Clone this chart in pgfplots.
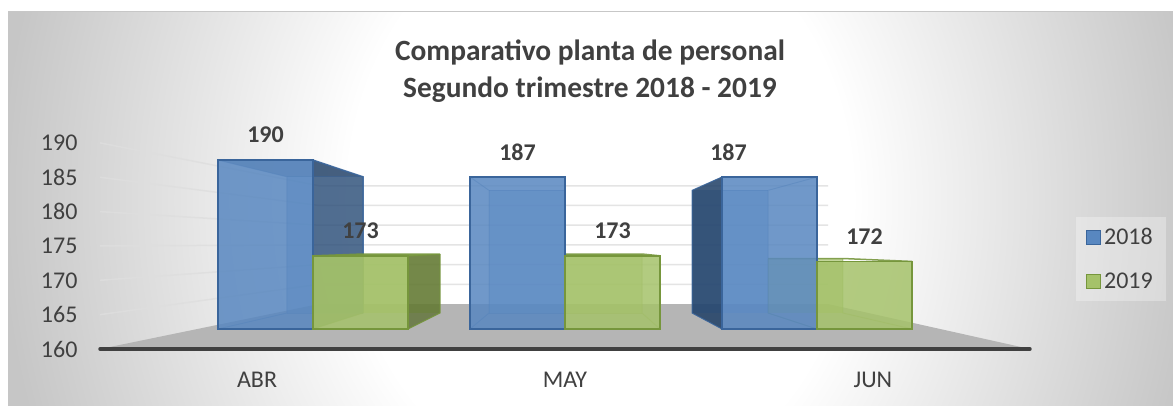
\documentclass[border=0pt]{standalone}
\usepackage{pgfplots}
\pgfplotsset{compat=1.18}
\usepackage{fontspec}
\setmainfont{Carlito}
\definecolor{txt}{HTML}{404040}
\definecolor{bggray}{HTML}{C6C6C6}
\definecolor{floorc}{HTML}{B5B5B5}
\definecolor{gridc}{HTML}{DEDEDE}
\definecolor{blueF}{HTML}{4F81BD}
\definecolor{blueE}{HTML}{3A659B}
\definecolor{blueD}{HTML}{1F3F66}
\definecolor{blueL}{HTML}{6C9DDB}
\definecolor{greenF}{HTML}{9BBB59}
\definecolor{greenE}{HTML}{76963C}
\definecolor{greenD}{HTML}{5A6E2E}
\pgfdeclareradialshading{bgshade}{\pgfpointorigin}{color(0bp)=(white); color(10.5bp)=(white); color(25bp)=(bggray); color(50bp)=(bggray)}
\pgfplotsset{
  frame/.style={scale only axis,width=1173pt,height=405pt,at={(0pt,0pt)},anchor=south west,
    xmin=-1.24206,xmax=3.4127},
  face/.style={fill=#1,fill opacity=.8,draw=none,forget plot},
  edge/.style={draw=#1,line width=1pt,draw opacity=.45,fill=none,forget plot},
  vals/.style={point meta=explicit,
    nodes near coords={\pgfmathprintnumber[assume math mode=true]{\pgfplotspointmeta}},
    every node near coord/.append style={anchor=center,font=\fontsize{24}{24}\selectfont\bfseries,text=txt,yshift=25pt,fill opacity=1,opacity=1}},
}
\begin{document}
\begin{tikzpicture}[x=1pt,y=1pt]
\path[use as bounding box] (0,0) rectangle (1173,405);
\fill[white] (0,0) rectangle (1173,405);
\begin{scope}
\clip (8,0) rectangle (1173,393);
\shade[shading=bgshade] (0,-495) rectangle (1200,905);
\end{scope}
\draw[color=black!22,line width=1pt] (8,393) -- (1173,393);
% ---- axis with the value scale, floor and walls
\begin{axis}[frame,ymin=151.85,ymax=210.8,
  axis line style={draw=none},major tick length=0pt,
  xtick={-0.222,1,2.222},xticklabels={ABR,MAY,JUN},
  ytick={160,165,170,175,180,185,190},
  tick label style={font=\fontsize{24}{24}\selectfont,text=txt},
  /pgf/number format/assume math mode=true,
  xticklabel style={anchor=center,yshift=25pt},
  yticklabel style={anchor=east,xshift=81pt},
  title={Comparativo planta de personal\\Segundo trimestre 2018 - 2019},
  title style={at={(590/1173,1-77.5/405)},anchor=center,align=center,text=txt,font=\fontsize{29.4}{37}\selectfont\bfseries},
]
\addplot[fill=floorc,draw=none] coordinates {(-0.8452,160)(0.0238,166.55)(2.0437,166.55)(2.8452,160)} --cycle;
\addplot[gridc,line width=1.5pt,opacity=.8] coordinates {(-0.8452,190)(0.0238,183.76)(2.0437,183.76)};
\addplot[gridc,line width=1.5pt,opacity=.8] coordinates {(-0.8452,185)(0.0238,180.89)(2.0437,180.89)};
\addplot[gridc,line width=1.5pt,opacity=.8] coordinates {(-0.8452,180)(0.0238,178.02)(2.0437,178.02)};
\addplot[gridc,line width=1.5pt,opacity=.8] coordinates {(-0.8452,175)(0.0238,175.15)(2.0437,175.15)};
\addplot[gridc,line width=1.5pt,opacity=.8] coordinates {(-0.8452,170)(0.0238,172.29)(2.0437,172.29)};
\addplot[gridc,line width=1.5pt,opacity=.8] coordinates {(-0.8452,165)(0.0238,169.42)(2.0437,169.42)};
\addplot[txt,line width=3.5pt,line cap=round] coordinates {(-0.8452,160)(2.8452,160)};
\end{axis}
% ---- axis with the front plane of the bars
\begin{axis}[frame,hide axis,ymin=146.5,ymax=218.44,
  y coord trafo/.code={\pgfmathparse{#1-160}},
  y coord inv trafo/.code={\pgfmathparse{#1+160}},
  legend style={at={(1166/1173,1-217/405)},anchor=north east,fill=white,fill opacity=.3,text opacity=1,draw=none,
    font=\fontsize{24}{24}\selectfont,text=txt,row sep=27pt,inner xsep=10pt,inner ysep=11pt,
    nodes={inner xsep=3pt,inner ysep=0pt}},
  legend cell align=left,
  legend image code/.code={\draw[#1,line width=1pt,fill opacity=1,draw opacity=1] (0pt,-7pt) rectangle (14pt,7pt);},
]
\addlegendimage{fill=blueF!95!white,draw=blueE}\addlegendentry{2018}
\addlegendimage{fill=greenF!90!white,draw=greenE}\addlegendentry{2019}
% blue ABR: back, side, top, bottom
\addplot[face=blueF,fill opacity=.45] coordinates {(-0.1032,162.84)(-0.1032,187.03)(0.1984,187.03)(0.1984,162.84)} --cycle;
\addplot[face=blueD,fill opacity=.65] coordinates {(0,160)(0,190)(0.1984,187.03)(0.1984,162.84)} --cycle;
\addplot[face=blueD,fill opacity=.5] coordinates {(-0.37698,190)(0,190)(0.1984,187.03)(-0.1032,187.03)} --cycle;
\addplot[edge=blueE,draw opacity=.9,line width=1.5pt] coordinates {(0,190)(0.1984,187.03)(0.1984,162.84)};
\addplot[edge=blueE] coordinates {(-0.37698,190)(-0.1032,187.03)(-0.1032,162.84)(-0.37698,160)};
\addplot[edge=blueE] coordinates {(-0.1032,187.03)(0.1984,187.03)};
\addplot[edge=blueE] coordinates {(-0.1032,162.84)(0.1984,162.84)};
% blue MAY
\addplot[face=blueL,fill opacity=.45] coordinates {(0.6984,162.84)(0.6984,184.62)(1,184.62)(1,162.84)} --cycle;
\addplot[edge=blueE] coordinates {(0.623,187)(0.6984,184.62)(0.6984,162.84)(0.623,160)};
\addplot[edge=blueE] coordinates {(0.6984,184.62)(1,184.62)};
\addplot[edge=blueE] coordinates {(0.6984,162.84)(1,162.84)};
% blue JUN
\addplot[face=blueL,fill opacity=.5] coordinates {(1.504,162.84)(1.504,184.62)(1.8056,184.62)(1.8056,162.84)} --cycle;
\addplot[face=blueD,fill opacity=.85] coordinates {(1.623,160)(1.623,187)(1.504,184.62)(1.504,162.84)} --cycle;
\addplot[edge=blueE,draw opacity=.9] coordinates {(1.623,187)(1.504,184.62)(1.504,162.84)(1.623,160)};
\addplot[edge=blueE] coordinates {(2,187)(1.8056,184.62)(1.8056,162.84)(2,160)};
\addplot[edge=blueE] coordinates {(1.623,184.62)(1.8056,184.62)};
% green ABR
\addplot[face=greenF,fill opacity=.6] coordinates {(0.1984,162.84)(0.1984,173.32)(0.504,173.32)(0.504,162.84)} --cycle;
\addplot[face=greenD,fill opacity=.75] coordinates {(0.37698,160)(0.37698,173)(0.504,173.32)(0.504,162.84)} --cycle;
\addplot[face=greenF,fill opacity=.5] coordinates {(0,160)(0,173)(0.1984,173.32)(0.1984,162.84)} --cycle;
\addplot[edge=greenE,draw opacity=.9,line width=1.5pt] coordinates {(0,173)(0.1984,173.32)(0.504,173.32)(0.37698,173)};
\addplot[edge=greenE,draw opacity=.9] coordinates {(0.504,173.32)(0.504,162.84)(0.37698,160)};
\addplot[edge=greenE] coordinates {(0.1984,173.32)(0.1984,162.84)(0,160)};
% green MAY
\addplot[face=greenF,fill opacity=.45] coordinates {(1,162.84)(1,173.32)(1.3056,173.32)(1.3056,162.84)} --cycle;
\addplot[edge=greenE,draw opacity=.9,line width=1.5pt] coordinates {(1,173.32)(1.3056,173.32)(1.377,173)};
\addplot[edge=greenE] coordinates {(1.3056,173.32)(1.3056,162.84)(1.377,160)};
\addplot[edge=greenE] coordinates {(1,162.84)(1.3056,162.84)};
% green JUN
\addplot[face=greenF,fill opacity=.6] coordinates {(1.8056,162.84)(1.8056,172.52)(2.103,172.52)(2.103,162.84)} --cycle;
\addplot[edge=greenE,draw opacity=.9,line width=1.5pt] coordinates {(1.8056,172.52)(2.103,172.52)(2.377,172)};
\addplot[edge=greenE] coordinates {(2.103,172.52)(2.103,162.84)(2.377,160)};
\addplot[edge=greenE] coordinates {(1.8056,172.52)(1.8056,162.84)(2,160)};
% front faces: the two series, as bars
\addplot[vals,ybar,bar width=95pt,bar shift=-47.5pt,fill=blueF!95!white,fill opacity=.85,draw=blueE,line width=1.5pt,forget plot,
  every node near coord/.append style={xshift=-47.5pt},
  coordinate style/.condition={x==2}{xshift=-41pt}]
  coordinates {(0,190) [190] (1,187) [187] (2,187) [187]};
\addplot[vals,ybar,bar width=95pt,bar shift=47.5pt,fill=greenF!90!white,fill opacity=.85,draw=greenE,line width=1.5pt,forget plot,
  every node near coord/.append style={xshift=47.5pt}]
  coordinates {(0,173) [173] (1,173) [173] (2,172) [172]};
\end{axis}
\end{tikzpicture}
\end{document}
